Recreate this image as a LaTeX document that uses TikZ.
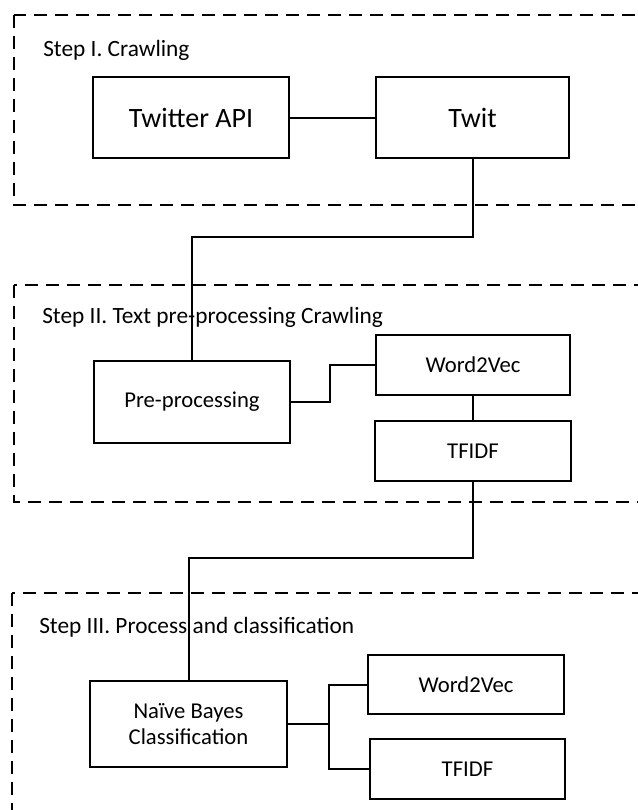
\documentclass[tikz,border=0pt]{standalone}
\usepackage{fontspec}
\setmainfont{Carlito}
\tikzset{
  stepframe/.style={line width=1.8pt, dash pattern=on 9.75pt off 6pt},
  stepname/.style={anchor=west, inner sep=0pt, font=\fontsize{17.5}{21}\selectfont},
  bigbox/.style={draw, line width=1.5pt, minimum width=146pt, minimum height=60.75pt, inner sep=0pt, font=\fontsize{21}{25}\selectfont},
  smallbox/.style={draw, line width=1.5pt, minimum width=147pt, minimum height=45pt, inner sep=0pt, align=center, font=\fontsize{17}{20}\selectfont},
  link/.style={line width=1.5pt}
}
\begin{document}
\begin{tikzpicture}[line join=miter, x=0.75pt, y=-0.75pt]
                \useasboundingbox (0,0) rectangle (638,810);
                \clip (0,0) rectangle (638,810);

                % step frames
                \draw[stepframe] (14,15) rectangle (670,205);
                \draw[stepframe] (14,285) rectangle (670,502);
                \draw[stepframe] (12,593) rectangle (670,850);

                \node[stepname] (stepI) at (43,50) {Step I. Crawling};
                \node[stepname] (stepII) at (42,317) {Step II. Text pre-processing Crawling};
                \node[stepname] (stepIII) at (39,627) {Step III. Process and classification};

                % step I
                \node[bigbox, minimum width=147pt] (api) at (191,117.5) {Twitter API};
                \node[bigbox, minimum width=145pt] (twit) at (472.5,117.5) {Twit};
                \draw[link] (api.east) -- (twit.west);

                % step II
                \node[smallbox, minimum height=61.5pt] (pre) at (192,402) {Pre-processing};
                \node[smallbox, minimum width=146pt] (wvA) at (473,365) {Word2Vec};
                \node[smallbox] (tfA) at (473,451) {TFIDF};
                \draw[link] (pre.east) -- ++(39,0) |- (wvA.west);
                \draw[link] (wvA.south) -- (tfA.north);
                \draw[link] (twit.south) -- ++(0,78) -| (pre.north);

                % step III
                \node[smallbox, minimum width=148pt, minimum height=64.5pt] (nb) at (188.5,724) {Naïve Bayes\\Classification};
                \node[smallbox, minimum height=44pt] (wvB) at (466,684.5) {Word2Vec};
                \node[smallbox, minimum width=146pt] (tfB) at (467.5,769) {TFIDF};
                \draw[link] (nb.east) -- ++(41,0) coordinate (fork);
                \draw[link] (wvB.west) -| (fork) |- (tfB.west);
                \draw[link] (tfA.south) -- ++(0,76) -| (nb.north);

            \end{tikzpicture}
\end{document}
